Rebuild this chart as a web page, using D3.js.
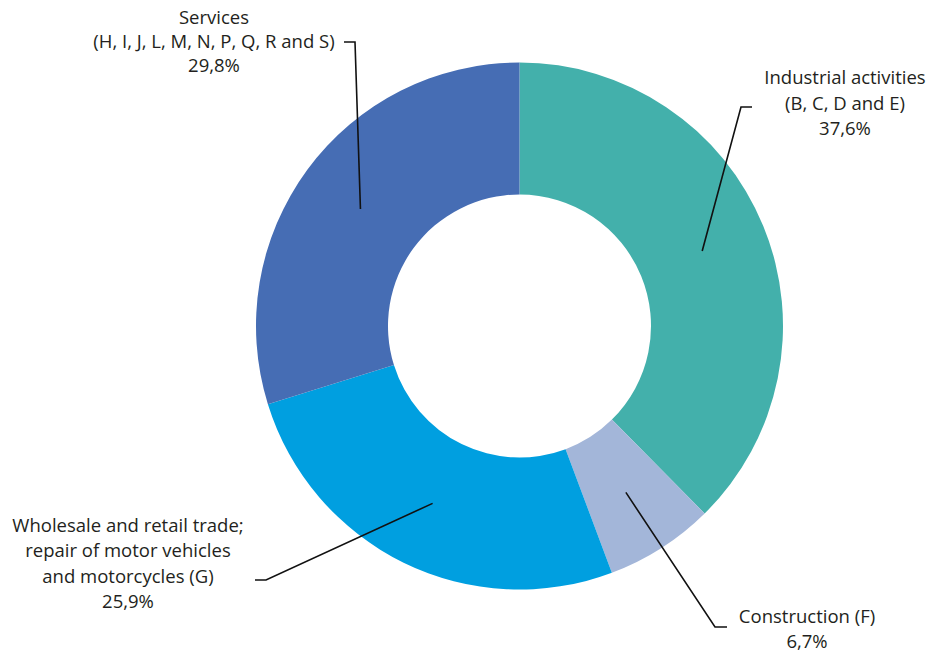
<!DOCTYPE html>
<html>
<head>
<meta charset="utf-8">
<script src="https://cdn.jsdelivr.net/npm/d3@7"></script>
<style>
  html, body { margin: 0; padding: 0; background: #fff; }
  svg { display: block; }
  text { font-family: "Open Sans", "Noto Sans", sans-serif; fill: #231f20; }
</style>
</head>
<body>
<svg id="chart" width="931" height="656"></svg>
<script>
// ---- data ----
const categories = [
  "Industrial activities",
  "Construction (F)",
  "Wholesale and retail trade; repair of motor vehicles and motorcycles (G)",
  "Services (H, I, J, L, M, N, P, Q, R and S)"
];
const labelLines = [
  ["Industrial activities", "(B, C, D and E)"],
  ["Construction (F)"],
  ["Wholesale and retail trade;", "repair of motor vehicles", "and motorcycles (G)"],
  ["Services", "(H, I, J, L, M, N, P, Q, R and S)"]
];
const shares = [37.6, 6.7, 25.9, 29.8];
const colors = ["#43b0ab", "#a3b6d9", "#009fe0", "#466db4"];

// ---- layout ----
const W = 931, H = 656;
const cx = 519.5, cy = 326, outerR = 263.5, innerR = 131.5;
const labelLayout = [
  { elbow: [741, 107], end: [752, 107], tx: 845, ty: 84, lh: 25.5 },
  { elbow: [715, 627], end: [727, 627], tx: 807, ty: 623, lh: 25 },
  { elbow: [266, 580], end: [255, 580], tx: 128, ty: 532, lh: 25.3 },
  { elbow: [355, 42], end: [344, 42], tx: 214, ty: 24, lh: 24 }
];
const fmt = v => d3.format(".1f")(v).replace(".", ",") + "%";

const svg = d3.select("#chart");
const g = svg.append("g").attr("transform", `translate(${cx},${cy})`);

const pie = d3.pie().sort(null).value(d => d)(shares);
const arc = d3.arc().innerRadius(innerR).outerRadius(outerR);

g.selectAll("path.slice")
  .data(pie)
  .join("path")
  .attr("class", "slice")
  .attr("d", arc)
  .attr("fill", (d, i) => colors[i]);

// leader lines
pie.forEach((d, i) => {
  const c = arc.centroid(d);
  const L = labelLayout[i];
  svg.append("polyline")
    .attr("points", [[c[0] + cx, c[1] + cy], L.elbow, L.end].map(p => p.join(",")).join(" "))
    .attr("fill", "none")
    .attr("stroke", "#111")
    .attr("stroke-width", 1.6);
});

// labels
labelLines.forEach((lines, i) => {
  const L = labelLayout[i];
  const t = svg.append("text")
    .attr("text-anchor", "middle")
    .attr("font-size", 18.5);
  const all = lines.concat([fmt(shares[i])]);
  all.forEach((s, j) => {
    t.append("tspan").attr("x", L.tx).attr("y", L.ty + j * L.lh).text(s);
  });
});
</script>
</body>
</html>
